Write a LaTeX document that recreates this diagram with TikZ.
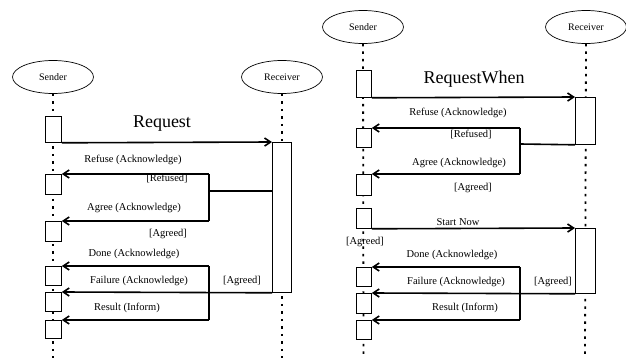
\documentclass[tikz,border=0pt]{standalone}
\usepackage{fontspec}
\setmainfont{Liberation Serif}
\usetikzlibrary{arrows.meta,shapes.geometric}
\begin{document}
\begin{tikzpicture}[x=1pt,y=-1pt,
 actor/.style={draw,ellipse,minimum width=81pt,minimum height=33pt,inner sep=0,font=\fontsize{10}{12}\selectfont,line width=0.7pt},
 life/.style={line width=1.8pt,dash pattern=on 2.5pt off 5pt},
 act/.style={draw,fill=white,line width=0.8pt,inner sep=0,anchor=north west},
 msg/.style={line width=1.6pt,-{Straight Barb[length=6pt,width=8pt]}},
 wire/.style={line width=1.6pt},
 lbl/.style={font=\fontsize{10.5}{12}\selectfont,inner sep=0},
 big/.style={font=\fontsize{18}{20}\selectfont,inner sep=0}]
\useasboundingbox[fill=white] (0,0) rectangle (626,358);

% ---------------- left diagram ----------------
\node[actor] (ls) at (53,77) {Sender};
\node[actor] (lr) at (282,77) {Receiver};
\coordinate (lsEnd) at (53,358);
\coordinate (lrEnd) at (282,358);
\draw[life] (ls.south) -- (lsEnd);
\draw[life] (lr.south) -- (lrEnd);

\node[act,minimum width=16pt,minimum height=26pt] (s1) at (45,116) {};
\node[act,minimum width=16pt,minimum height=20pt] (s2) at (45,174) {};
\node[act,minimum width=16pt,minimum height=20pt] (s3) at (45,221) {};
\node[act,minimum width=16pt,minimum height=19pt] (s4) at (45,266) {};
\node[act,minimum width=16pt,minimum height=19pt] (s5) at (45,292) {};
\node[act,minimum width=16pt,minimum height=18pt] (s6) at (45,320) {};
\node[act,minimum width=19pt,minimum height=150pt] (rb) at (272,142) {};

\coordinate (j1) at (209,174);
\coordinate (j2) at (209,221);
\coordinate (j3) at (209,191);
\coordinate (k1) at (209,266);
\coordinate (k2) at (209,320);

\draw[msg] (s1.south east) -- (rb.north west);
\draw[wire] (rb.west |- j3) -- (j3);
\draw[wire] (j1) -- (j2);
\draw[msg] (j1) -- (s2.north east);
\draw[msg] (j2) -- (s3.north east);
\draw[wire] (k1) -- (k2);
\draw[msg] (k1) -- (s4.north east);
\draw[msg] (rb.south west) -- (s5.north east);
\draw[msg] (k2) -- (s6.north east);

\node[big] (tReq) at (162,124) {Request};
\node[lbl] (t1) at (133,160) {Refuse (Acknowledge)};
\node[lbl] (t2) at (167,179) {[Refused]};
\node[lbl] (t3) at (134,208) {Agree (Acknowledge)};
\node[lbl] (t4) at (168,234) {[Agreed]};
\node[lbl] (t5) at (134,254) {Done (Acknowledge)};
\node[lbl] (t6) at (139,281) {Failure (Acknowledge)};
\node[lbl] (t7) at (242,281) {[Agreed]};
\node[lbl] (t8) at (127,308) {Result (Inform)};

% ---------------- right diagram ----------------
\node[actor] (rs) at (363,27) {Sender};
\node[actor] (rr) at (586,27) {Receiver};
\coordinate (rsEnd) at (363.5,358);
\coordinate (rrEnd) at (585,358);
\draw[life] (rs.south) -- (rsEnd);
\draw[life] (rr.south) -- (rrEnd);

\node[act,minimum width=15pt,minimum height=27pt] (u1) at (356,70) {};
\node[act,minimum width=15pt,minimum height=19pt] (u2) at (356,128) {};
\node[act,minimum width=15pt,minimum height=21pt] (u3) at (356,174) {};
\node[act,minimum width=15pt,minimum height=20pt] (u4) at (356,208) {};
\node[act,minimum width=15pt,minimum height=19pt] (u5) at (356,267) {};
\node[act,minimum width=15pt,minimum height=20pt] (u6) at (356,293) {};
\node[act,minimum width=15pt,minimum height=19pt] (u7) at (356,320) {};
\node[act,minimum width=20pt,minimum height=47pt] (rb1) at (575,97) {};
\node[act,minimum width=20pt,minimum height=65pt] (rb2) at (575,228) {};

\coordinate (m1) at (520,128);
\coordinate (m2) at (520,174);
\coordinate (m3) at (520,144);
\coordinate (n1) at (520,267);
\coordinate (n2) at (520,320);

\draw[msg] (u1.south east) -- (rb1.north west);
\draw[wire] (rb1.south west) -- (m3);
\draw[wire] (m1) -- (m2);
\draw[msg] (m1) -- (u2.north east);
\draw[msg] (m2) -- (u3.north east);
\draw[msg] (u4.south east) -- (rb2.north west);
\draw[wire] (n1) -- (n2);
\draw[msg] (n1) -- (u5.north east);
\draw[msg] (rb2.south west) -- (u6.north east);
\draw[msg] (n2) -- (u7.north east);

\node[big] (tRW) at (474,79) {RequestWhen};
\node[lbl] (r1) at (458,113) {Refuse (Acknowledge)};
\node[lbl] (r2) at (471,135) {[Refused]};
\node[lbl] (r3) at (459,163) {Agree (Acknowledge)};
\node[lbl] (r4) at (473,188) {[Agreed]};
\node[lbl] (r5) at (458,222) {Start Now};
\node[lbl] (r6) at (365,242) {[Agreed]};
\node[lbl] (r7) at (452,255) {Done (Acknowledge)};
\node[lbl] (r8) at (456,282) {Failure (Acknowledge)};
\node[lbl] (r9) at (553,282) {[Agreed]};
\node[lbl] (r10) at (465,308) {Result (Inform)};
\end{tikzpicture}
\end{document}
